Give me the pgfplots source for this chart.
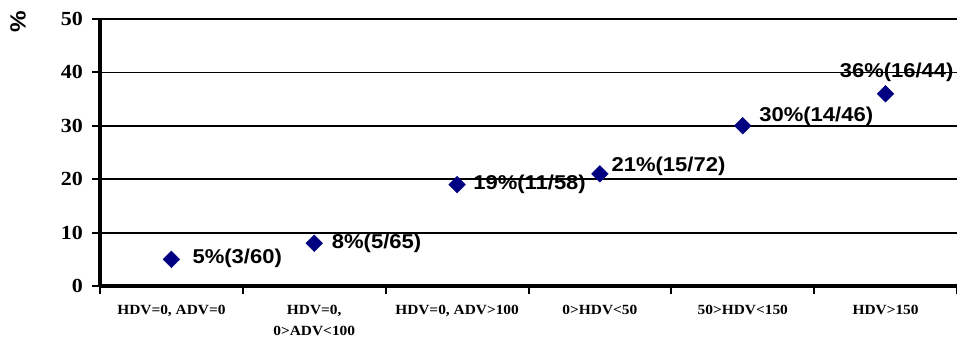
\documentclass[border=0pt]{standalone}
\usepackage{fontspec}
\setmainfont{Liberation Serif}[FakeStretch=1.1]
\newfontfamily\labelfont{Liberation Sans}[FakeStretch=1.1]
\usepackage{pgfplots}
\usepackage{pgfplotstable}
\pgfplotsset{compat=1.18}
\definecolor{markblue}{RGB}{0,0,128}

% share (%) per HDV/ADV group, with label offsets in pt
\pgfplotstableread{
x y dx dy label
0 5 21 1 {5\%(3/60)}
1 8 17.5 0 {8\%(5/65)}
2 19 16 0 {19\%(11/58)}
3 21 11.5 7.3 {21\%(15/72)}
4 30 16.4 9 {30\%(14/46)}
5 36 -46 21 {36\%(16/44)}
}\rates

\begin{document}
\begin{tikzpicture}
\begin{axis}[
  set layers,
  at={(100pt,52pt)}, anchor=south west,
  scale only axis, width=857pt, height=267pt,
  xmin=-0.5, xmax=5.5, ymin=0, ymax=50,
  axis x line*=bottom, axis y line*=left,
  axis line style={line width=3.2pt, -},
  ytick={0,10,...,50},
  xtick={-0.5,0.5,1.5,2.5,3.5,4.5,5.5},
  x tick label as interval,
  xticklabels={{HDV=0, ADV=0},{HDV=0,\\0>ADV<100},{HDV=0, ADV>100},{0>HDV<50},{50>HDV<150},{HDV>150}},
  ymajorgrids,
  major grid style={black, line width=1.8pt},
  tick align=outside,
  major tick length=8pt,
  tick style={black, line width=2pt},
  /pgf/number format/assume math mode=true,
  yticklabel style={font=\fontsize{20}{20}\selectfont\bfseries, inner sep=0pt, xshift=-9pt},
  xticklabel style={font=\fontsize{14}{21}\selectfont\bfseries, align=center, anchor=north, inner sep=0pt, yshift=-11pt},
  clip=false,
]
\addplot[draw=none, mark=none, on layer=axis background,
  point meta=explicit symbolic,
  visualization depends on={\thisrow{dx} \as \dx},
  visualization depends on={\thisrow{dy} \as \dy},
  nodes near coords,
  every node near coord/.append style={anchor=west, inner sep=0pt,
    xshift=\dx pt, yshift=\dy pt,
    font=\labelfont\fontsize{20}{20}\selectfont\bfseries}]
  table[x=x, y=y, meta=label] {\rates};
\addplot[only marks, mark=square*, mark size=5.9pt,
  mark options={rotate=45, fill=markblue, draw=markblue}]
  table[x=x, y=y] {\rates};
\end{axis}
% unit label of the value axis
\node[rotate=90, inner sep=0pt, font=\labelfont\fontsize{22}{22}\selectfont\bfseries]
  at (18pt,316pt) {\%};
\pgfresetboundingbox
\useasboundingbox (0,0) rectangle (957pt,338pt);
\end{tikzpicture}
\end{document}
